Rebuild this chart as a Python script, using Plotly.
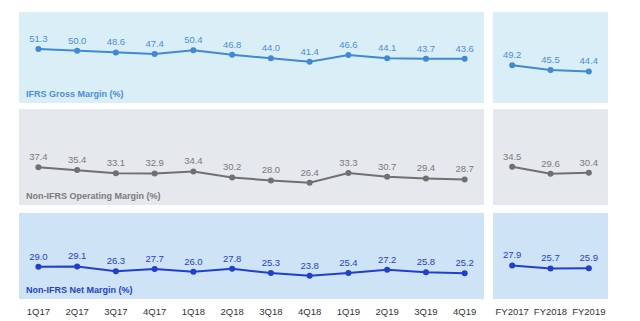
import plotly.graph_objects as go

quarters = ["1Q17","2Q17","3Q17","4Q17","1Q18","2Q18","3Q18","4Q18","1Q19","2Q19","3Q19","4Q19"]
years = ["FY2017","FY2018","FY2019"]

gross_q = [51.3, 50.0, 48.6, 47.4, 50.4, 46.8, 44.0, 41.4, 46.6, 44.1, 43.7, 43.6]
gross_y = [49.2, 45.5, 44.4]
oper_q = [37.4, 35.4, 33.1, 32.9, 34.4, 30.2, 28.0, 26.4, 33.3, 30.7, 29.4, 28.7]
oper_y = [34.5, 29.6, 30.4]
net_q = [29.0, 29.1, 26.3, 27.7, 26.0, 27.8, 25.3, 23.8, 25.4, 27.2, 25.8, 25.2]
net_y = [27.9, 25.7, 25.9]

titles = ["IFRS Gross Margin (%)", "Non-IFRS Operating Margin (%)", "Non-IFRS Net Margin (%)"]

FONT = "Liberation Sans, Arial, sans-serif"

panels = [
    dict(q=gross_q, y=gross_y, bg="#daeef8", line="#3f8ad6", txt="#4a8fd6",
         dom=[0.6791, 0.9626], rq=[9.1, 80.2], ry=[19.7, 90.8], title=titles[0]),
    dict(q=oper_q, y=oper_y, bg="#e5e8ec", line="#707070", txt="#7a7a7a",
         dom=[0.3614, 0.6604], rq=[10.5, 79.0], ry=[8.1, 74.3], title=titles[1]),
    dict(q=net_q, y=net_y, bg="#cfe3f6", line="#1e40cf", txt="#2444c2",
         dom=[0.0685, 0.3364], rq=[10.3, 60.0], ry=[3.9, 65.3], title=titles[2]),
]

xl = [0.0297, 0.7563]
xr = [0.7703, 0.95]

fig = go.Figure()
shapes = []
annotations = []
layout = {}
for i, p in enumerate(panels):
    ia = 2 * i + 1
    ib = 2 * i + 2
    for idx, cats, vals, xd, rng in [(ia, quarters, p["q"], xl, p["rq"]), (ib, years, p["y"], xr, p["ry"])]:
        xa = "x" if idx == 1 else f"x{idx}"
        ya = "y" if idx == 1 else f"y{idx}"
        fig.add_trace(go.Scatter(
            x=cats, y=vals, xaxis=xa, yaxis=ya, mode="lines+markers+text",
            text=[f"{v:.1f}" for v in vals], textposition="top center",
            textfont=dict(family=FONT, size=9.5, color=p["txt"]),
            line=dict(color=p["line"], width=2),
            marker=dict(color=p["line"], size=6),
            cliponaxis=False, showlegend=False, hoverinfo="skip",
        ))
        bottom = (i == 2)
        n = len(cats)
        layout[f"xaxis{idx}" if idx > 1 else "xaxis"] = dict(
            domain=xd, anchor=ya, type="category", categoryorder="array", categoryarray=cats,
            range=[-0.5, n - 0.5], showgrid=False, zeroline=False, showline=False,
            showticklabels=bottom, ticks="outside" if bottom else "", ticklen=4,
            tickcolor="rgba(0,0,0,0)",
            tickfont=dict(family=FONT, size=9.5, color="#333333"), fixedrange=True,
        )
        layout[f"yaxis{idx}" if idx > 1 else "yaxis"] = dict(
            domain=p["dom"], anchor=xa, range=rng, visible=False, fixedrange=True,
        )
        shapes.append(dict(type="rect", xref=f"{xa} domain", yref=f"{ya} domain",
                           x0=0, x1=1, y0=0, y1=1, fillcolor=p["bg"], line_width=0, layer="below"))
    annotations.append(dict(
        text=f"<b>{p['title']}</b>", xref="x domain" if ia == 1 else f"x{ia} domain",
        yref="y domain" if ia == 1 else f"y{ia} domain", x=0.01, y=0.02,
        xanchor="left", yanchor="bottom", showarrow=False,
        font=dict(family=FONT, size=9, color=p["txt"]),
    ))

fig.update_layout(
    width=640, height=321, margin=dict(l=0, r=0, t=0, b=0),
    paper_bgcolor="white", plot_bgcolor="rgba(0,0,0,0)",
    shapes=shapes, annotations=annotations, **layout,
)
fig.write_html("out.html")
